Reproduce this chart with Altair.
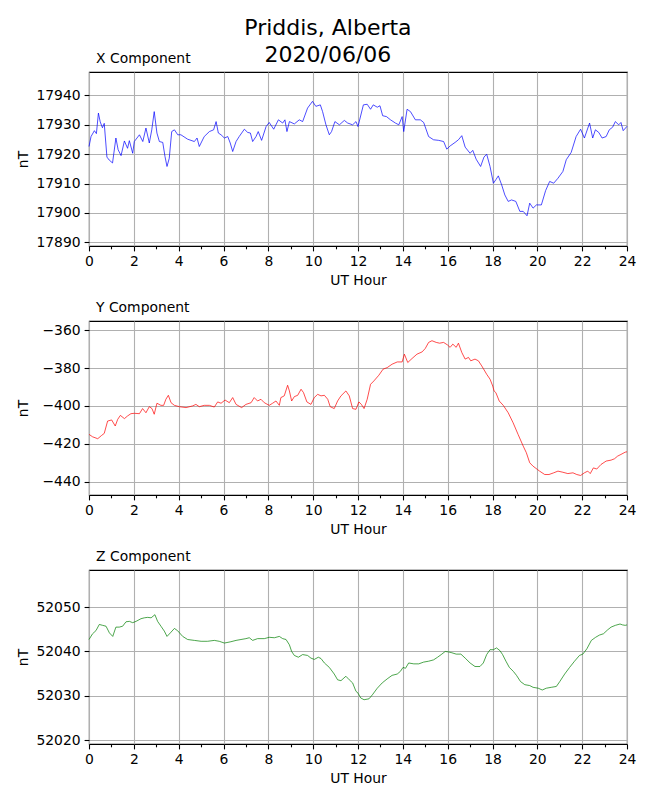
import altair as alt
import pandas as pd

# ---- data ----
x_hours = [0, 0.09, 0.24, 0.33, 0.42, 0.5, 0.6, 0.68, 0.8, 0.9, 1.05, 1.2, 1.3, 1.43, 1.58, 1.72, 1.8, 1.95,
           2.02, 2.25, 2.4, 2.54, 2.69, 2.8, 2.91, 3.03, 3.14, 3.29, 3.39, 3.48, 3.58, 3.69, 3.81, 3.96, 4.1,
           4.4, 4.7, 4.82, 4.92, 5.14, 5.37, 5.56, 5.67, 5.77, 5.89, 6.04, 6.19, 6.3, 6.41, 6.56, 6.7, 6.93,
           7.08, 7.2, 7.3, 7.45, 7.55, 7.7, 7.9, 8.04, 8.24, 8.45, 8.64, 8.74, 8.83, 8.94, 9.16, 9.38, 9.53,
           9.75, 9.97, 10.12, 10.32, 10.42, 10.57, 10.72, 10.82, 10.97, 11.17, 11.39, 11.54, 11.76, 11.91,
           12.0, 12.24, 12.41, 12.56, 12.68, 12.86, 12.98, 13.1, 13.27, 13.45, 13.67, 13.82, 13.97, 14.04,
           14.19, 14.34, 14.56, 14.78, 14.93, 15.15, 15.37, 15.6, 15.82, 15.96, 16.11, 16.33, 16.48, 16.63,
           16.78, 17.0, 17.12, 17.27, 17.47, 17.62, 17.74, 17.89, 18.04, 18.15, 18.26, 18.41, 18.55, 18.7,
           18.85, 19.04, 19.22, 19.37, 19.54, 19.66, 19.81, 19.96, 20.18, 20.37, 20.55, 20.73, 20.92, 21.14,
           21.29, 21.51, 21.73, 21.93, 22.1, 22.33, 22.47, 22.59, 22.74, 22.89, 23.07, 23.21, 23.36, 23.48,
           23.63, 23.73, 23.83, 24.0]
x_values = [17922.6, 17926, 17928, 17927, 17934, 17931, 17929, 17930.5, 17919, 17918, 17917, 17925.5, 17921.5,
            17919.5, 17924.5, 17922, 17924.6, 17920.3, 17924.3, 17926.6, 17924.3, 17928.9, 17923.8, 17928.3,
            17934.5, 17927.2, 17924.3, 17924, 17919.2, 17915.8, 17918.6, 17927.7, 17928.3, 17926.6, 17926.6,
            17925.1, 17924.3, 17925.5, 17922.6, 17926, 17927.7, 17928.3, 17931.1, 17927.2, 17926.6, 17925.5,
            17926, 17923.8, 17920.9, 17924.3, 17926, 17928.5, 17927.4, 17927.2, 17924.3, 17926, 17927.7,
            17924.7, 17929.4, 17930.8, 17928.5, 17931.7, 17930.6, 17931.7, 17927.7, 17931.1, 17930.3, 17931.7,
            17931.1, 17935.7, 17938, 17936.3, 17936.8, 17934.5, 17930, 17926.6, 17927.7, 17931.1, 17930,
            17931.5, 17930.6, 17930, 17931.1,
            17929.4, 17936.8, 17937, 17935.3, 17936.8, 17936, 17936.5, 17933.1, 17932.8, 17931.7, 17930.6,
            17930, 17932.8, 17927.7, 17935.3, 17934.5, 17931.7, 17931.7, 17930.8, 17926, 17924.9, 17924.7,
            17924.3, 17921.7, 17922.8, 17924, 17924.9, 17926.3, 17922.4, 17920.3, 17921.3, 17918.3, 17915.8,
            17919, 17920, 17915.8, 17910.1, 17911.3, 17912.6, 17909.5, 17906.1, 17903.9, 17904.4, 17903.9,
            17900.5, 17900.5, 17899, 17903.3, 17901.6, 17902.7, 17902.7, 17907.6, 17910.7, 17910.1, 17911.8,
            17914.1, 17918.1, 17920.6, 17926, 17928.5, 17925.5, 17930.6, 17925.5, 17928.3, 17927.4, 17925.5,
            17926, 17928.3, 17929.2, 17931.1, 17930, 17930.8, 17928, 17929.5]

y_hours = [0, 0.16, 0.39, 0.56, 0.68, 0.83, 1.01, 1.17, 1.28, 1.4, 1.58, 1.72, 1.87, 2.02, 2.25, 2.39, 2.54,
           2.69, 2.81, 2.91, 3.03, 3.21, 3.33, 3.43, 3.54, 3.66, 3.81, 4.03, 4.33, 4.62, 4.77, 4.92, 5.14,
           5.37, 5.59, 5.74, 5.89, 6.07, 6.26, 6.41, 6.56, 6.81, 7.0, 7.23, 7.37, 7.52, 7.67, 7.82, 8.04,
           8.19, 8.34, 8.49, 8.56, 8.71, 8.86, 8.94, 9.04, 9.16, 9.31, 9.46, 9.57, 9.72, 9.9, 10.05, 10.2,
           10.35, 10.5, 10.65, 10.76, 10.94, 11.09, 11.24, 11.46, 11.61, 11.76, 11.91,
           12.04, 12.15, 12.27, 12.41, 12.56, 12.71, 12.93, 13.12, 13.3, 13.52, 13.75, 13.97, 14.07, 14.22,
           14.41, 14.63, 14.86, 15.0, 15.15, 15.3, 15.49, 15.64, 15.82, 16.0, 16.11, 16.23, 16.38, 16.48,
           16.63, 16.78, 16.93, 17.03, 17.22, 17.37, 17.52, 17.74, 17.89, 18.01, 18.07, 18.15, 18.3, 18.48,
           18.7, 18.92, 19.14, 19.37, 19.51, 19.66, 19.81, 20.0, 20.1, 20.33, 20.52, 20.73, 20.92, 21.14,
           21.36, 21.59, 21.76, 21.93, 22.1, 22.25, 22.36, 22.5, 22.65, 22.84, 23.07, 23.29, 23.44, 23.58,
           23.73, 23.92, 24.0]
y_values = [-415, -416.3, -417.3, -415.6, -414.5, -408, -407.4, -410.6, -407.1, -405, -406.7, -405.3, -404.1,
            -403.9, -404.1, -401.4, -403.6, -400.4, -401.4, -404.4, -398.6, -399.7, -399.7, -396.5, -394.4,
            -398.3, -399.7, -400.4, -400.9, -400, -399.2, -400.4, -399.7, -399.7, -400.6, -397.9, -398.6,
            -396.9, -398.3, -395.6, -399.2, -400.9, -399.2, -398.3, -395.6, -397.4, -396.5, -398.3, -399.7,
            -398.6, -397.4, -399.7, -395.6, -394.7, -389.1, -392.1, -397.4, -395.1, -394.4, -391.2, -393,
            -397.9, -399.2, -395.6, -393.9, -394.7, -394.4, -396.5, -400.4, -401.4, -397.4, -394.7, -392.1,
            -394.7, -401.4, -401.8,
            -397.9, -399.2, -401.4, -396.5, -388.6, -386.8, -383.8, -380.6, -379.8, -378, -376.8, -376.8,
            -372.7, -377.1, -375, -372.7, -371.5, -369.7, -366.5, -365.6, -366.5, -366.9, -366.5, -367.9,
            -369.1, -367.4, -369.1, -366.9, -371.8, -375.3, -374.4, -376.2, -375.3, -376.2, -378.9, -383.3,
            -385.9, -389.5, -392.1, -393, -397.4, -399.7, -403.6, -408.9, -415, -421.2, -424.7, -430, -431.8,
            -433.5, -434.4, -436.2, -436.2, -435.3, -434.4, -435, -435.7, -435.3, -436.2, -436.7, -435.3,
            -434.4, -435.7, -432.7, -433.3, -430.9, -429.1, -428.6, -427.9, -426.5, -425.6, -424.4, -424.2]

z_hours = [0, 0.16, 0.31, 0.46, 0.61, 0.76, 0.91, 1.06, 1.2, 1.35, 1.5, 1.65, 1.8, 1.95, 2.1, 2.32, 2.47,
           2.62, 2.77, 2.94, 3.06, 3.21, 3.36, 3.48, 3.63, 3.81, 3.95, 4.18, 4.4, 4.7, 5.0, 5.29, 5.59, 5.81,
           6.04, 6.33, 6.56, 6.78, 7.0, 7.15, 7.3, 7.52, 7.82, 8.04, 8.27, 8.49, 8.64, 8.79, 8.94, 9.04, 9.16,
           9.34, 9.53, 9.75, 9.9, 10.05, 10.23, 10.35, 10.5, 10.72, 10.94, 11.09, 11.24, 11.46, 11.61, 11.76,
           11.91, 12.0, 12.12, 12.27, 12.49, 12.64, 12.86, 13.08, 13.3, 13.52, 13.75, 13.89, 14.01, 14.12,
           14.26, 14.49, 14.71, 14.93, 15.15, 15.37, 15.55, 15.74, 15.89, 16.04, 16.19, 16.38, 16.59, 16.78,
           17.0, 17.22, 17.44, 17.59, 17.74, 17.89, 18.04, 18.18, 18.33, 18.45, 18.6, 18.75, 18.93, 19.07,
           19.25, 19.44, 19.66, 19.81, 20.04, 20.22, 20.4, 20.62, 20.85, 21.0, 21.22, 21.44, 21.66, 21.88,
           22.03, 22.21, 22.41, 22.6, 22.77, 22.95, 23.14, 23.29, 23.48, 23.69, 23.8, 23.92, 24.0]
z_values = [52042.7, 52044, 52044.7, 52046.1, 52045.9, 52045.7, 52044.2, 52043.4, 52045.5, 52045.5, 52045.7,
            52046.7, 52046.8, 52046.5, 52046.8, 52047.4, 52047.6, 52047.7, 52047.6, 52048.3, 52046.8, 52045.7,
            52044.6, 52043.4, 52044.2, 52045.2, 52044.7, 52043.4, 52042.7, 52042.5, 52042.3, 52042.3, 52042.5,
            52042.3, 52041.9, 52042.2, 52042.5, 52042.7, 52042.9, 52043.1, 52042.5, 52042.9, 52042.9, 52043.2,
            52043.1, 52043.4, 52042.9, 52042.7, 52041.5, 52040, 52039.1, 52038.7, 52039.3, 52039.1, 52038.5,
            52038.2, 52038.7, 52038.4, 52037.4, 52036.4, 52034.9, 52033.6, 52033.4, 52034.4, 52033.6, 52032.9,
            52031, 52030.6, 52029.5, 52029.1, 52029.3, 52030.2, 52031.7, 52032.9, 52033.8, 52034.6, 52034.9,
            52035.5, 52036.4, 52036.2, 52037.4, 52037.2, 52037.2, 52037.6, 52037.8, 52038.1, 52038.7, 52039.4,
            52040, 52039.9, 52039.7, 52039.4, 52039.4, 52038.5, 52037.4, 52036.6, 52036.6, 52037.4, 52039.3,
            52040.4, 52040.4, 52040.8, 52040.2, 52039.3, 52037.8, 52036.4, 52035.5, 52034.6, 52033.2, 52032.5,
            52032.3, 52031.9, 52031.7, 52031.3, 52031.7, 52031.9, 52032.1, 52033.2, 52034.9, 52036.4, 52037.8,
            52039.1, 52039.4, 52040.6, 52042.5, 52043.2, 52043.7, 52044, 52044.9, 52045.5, 52045.9, 52046.2,
            52046, 52045.9, 52046]

x_ticks_all = list(range(0, 25))

FONT = "DejaVu Sans"
W, H = 538, 174


def panel(hours, values, color, title, domain, yticks):
    df = pd.DataFrame({"hour": hours, "value": values})
    return alt.Chart(df).mark_line(color=color, strokeWidth=0.7).encode(
        x=alt.X("hour:Q", title="UT Hour",
                scale=alt.Scale(domain=[0, 24], nice=False, zero=False),
                axis=alt.Axis(values=x_ticks_all,
                              labelExpr="datum.value % 2 == 0 ? datum.label : ''",
                              tickSize={"condition": {"test": "datum.value % 2 == 1", "value": 2.8}, "value": 4.9},
                              gridOpacity={"condition": {"test": "datum.value % 2 == 1", "value": 0}, "value": 1},
                              labelFlush=False, labelOverlap=False, labelPadding=4,
                              titlePadding=5, domain=False)),
        y=alt.Y("value:Q", title="nT",
                scale=alt.Scale(domain=domain, nice=False, zero=False),
                axis=alt.Axis(values=yticks, format="d", labelFlush=False, labelOverlap=False,
                              labelPadding=4, tickSize=4.9, domain=False,
                              titleX=-66, titleY=H / 2, titleAngle=270,
                              titleAlign="center", titleBaseline="middle")),
    ).properties(
        width=W, height=H,
        title=alt.TitleParams(title, anchor="start", frame="group", fontSize=13.9, font=FONT,
                              fontWeight="normal", baseline="alphabetic", offset=-5, dx=7, color="black"),
    )


cx = panel(x_hours, x_values, "#0000ff", "X Component", [17888.7, 17948], [17890, 17900, 17910, 17920, 17930, 17940])
cy = panel(y_hours, y_values, "#ff0000", "Y Component", [-447, -355.2], [-440, -420, -400, -380, -360])
cz = panel(z_hours, z_values, "#008000", "Z Component", [52019.1, 52058.4], [52020, 52030, 52040, 52050])

chart = alt.vconcat(cx, cy, cz, spacing=11).properties(
    title=alt.TitleParams(["Priddis, Alberta", "2020/06/06"], anchor="middle", fontSize=22, font=FONT,
                          fontWeight="normal", lineHeight=27, offset=-15, dx=2, color="black"),
    padding={"left": 7, "top": 8, "right": 0, "bottom": 0},
).configure_view(
    stroke="black", strokeWidth=1.1
).configure_axis(
    labelFont=FONT, labelFontSize=13.9, labelColor="black",
    titleFont=FONT, titleFontSize=13.9, titleFontWeight="normal", titleColor="black",
    tickColor="black", tickWidth=1.1, gridColor="#b0b0b0", gridWidth=1.1,
)

chart.save("out.html", embed_options={"renderer": "svg", "actions": False})
